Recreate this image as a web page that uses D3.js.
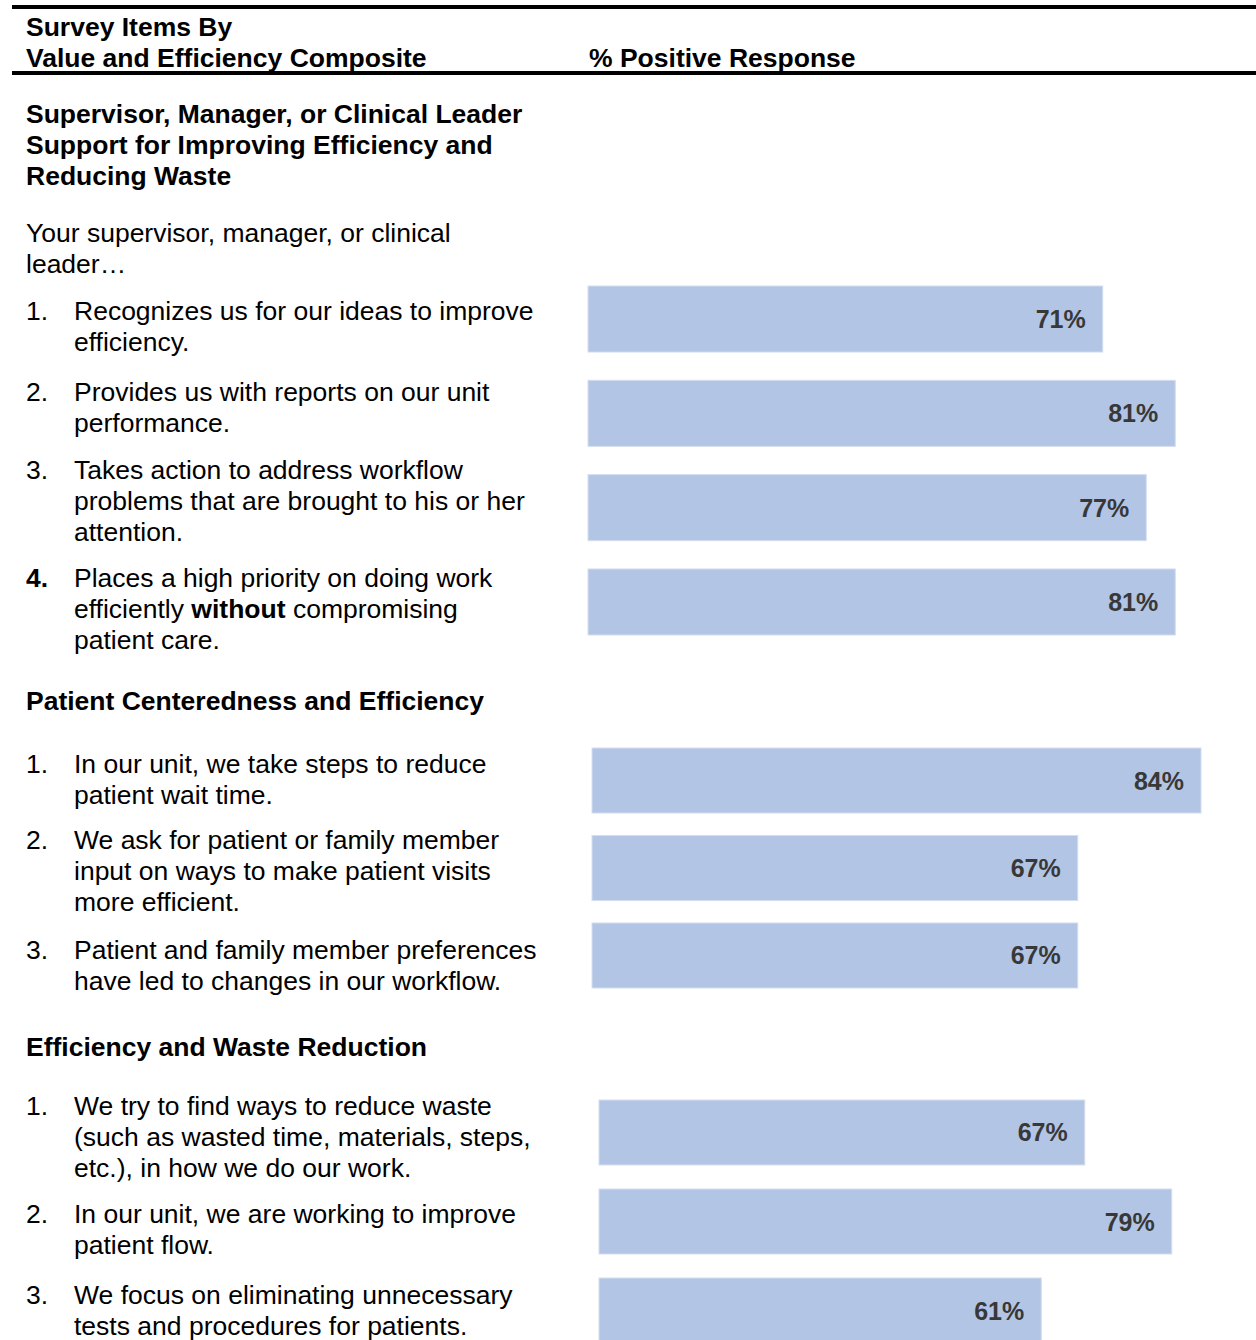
<!DOCTYPE html>
<html><head><meta charset="utf-8">
<script src="https://cdn.jsdelivr.net/npm/d3@7"></script>
<style>
body{margin:0;background:#fff}
svg{display:block}
text{font-family:"Liberation Sans",Arial,Helvetica,sans-serif}
</style>
</head><body>
<svg id="chart" width="1256" height="1340"></svg>
<script>
// ---------- DATA ----------
const headerLeft = ["Survey Items By", "Value and Efficiency Composite"];
const headerRight = "% Positive Response";

const compositeTitles = [
  ["Supervisor, Manager, or Clinical Leader", "Support for Improving Efficiency and", "Reducing Waste"],
  ["Patient Centeredness and Efficiency"],
  ["Efficiency and Waste Reduction"]
];
const introLines = ["Your supervisor, manager, or clinical", "leader…"];

const g1Numbers = ["1.", "2.", "3.", "**4.**"];
const g1Items = [
  ["Recognizes us for our ideas to improve", "efficiency."],
  ["Provides us with reports on our unit", "performance."],
  ["Takes action to address workflow", "problems that are brought to his or her", "attention."],
  ["Places a high priority on doing work", "efficiently **without** compromising", "patient care."]
];
const g1Values = [71, 81, 77, 81];

const g2Numbers = ["1.", "2.", "3."];
const g2Items = [
  ["In our unit, we take steps to reduce", "patient wait time."],
  ["We ask for patient or family member", "input on ways to make patient visits", "more efficient."],
  ["Patient and family member preferences", "have led to changes in our workflow."]
];
const g2Values = [84, 67, 67];

const g3Numbers = ["1.", "2.", "3."];
const g3Items = [
  ["We try to find ways to reduce waste", "(such as wasted time, materials, steps,", "etc.), in how we do our work."],
  ["In our unit, we are working to improve", "patient flow."],
  ["We focus on eliminating unnecessary", "tests and procedures for patients."]
];
const g3Values = [67, 79, 61];

// ---------- LAYOUT ----------
const LH = 30.8;
const FS = 26.5;
const layout = {
  titleY: [123, 710, 1056],
  introY: 242,
  itemY: [[320, 401, 479, 587], [773, 849, 959], [1115, 1223, 1304]],
  barX0: [588, 592, 599],
  barRange: [[286, 635], [748, 988], [1100, 1343]],
  barPad: [0.30, 0.257, 0.27]
};

const svg = d3.select("#chart");

// helper: render a line with **bold** markup
function richText(sel, str) {
  const parts = str.split("**");
  parts.forEach((p, i) => {
    if (!p) return;
    sel.append("tspan").text(p).attr("font-weight", i % 2 === 1 ? "bold" : "normal");
  });
}

// header rules
svg.append("rect").attr("x", 12).attr("y", 5).attr("width", 1244).attr("height", 4).attr("fill", "#000");
svg.append("rect").attr("x", 12).attr("y", 71).attr("width", 1244).attr("height", 4).attr("fill", "#000");

const hdr = svg.append("g").attr("font-weight", "bold").attr("font-size", FS).attr("fill", "#000");
hdr.selectAll("text.hl").data(headerLeft).join("text")
  .attr("x", 26).attr("y", (d, i) => 36 + i * LH).text(d => d);
hdr.append("text").attr("x", 589).attr("y", 36 + LH).text(headerRight);

// section titles
compositeTitles.forEach((lines, gi) => {
  svg.append("g").attr("font-weight", "bold").attr("font-size", FS).attr("fill", "#000")
    .selectAll("text").data(lines).join("text")
    .attr("x", 26).attr("y", (d, i) => layout.titleY[gi] + i * LH).text(d => d);
});

// intro
svg.append("g").attr("font-size", FS).attr("fill", "#000")
  .selectAll("text").data(introLines).join("text")
  .attr("x", 26).attr("y", (d, i) => layout.introY + i * LH).text(d => d);

// items + bars
const groups = [
  { nums: g1Numbers, items: g1Items, vals: g1Values },
  { nums: g2Numbers, items: g2Items, vals: g2Values },
  { nums: g3Numbers, items: g3Items, vals: g3Values }
];

const x = d3.scaleLinear().domain([0, 100]).range([0, 725]);

groups.forEach((g, gi) => {
  const gItems = svg.append("g").attr("font-size", FS).attr("fill", "#000");
  g.items.forEach((lines, ii) => {
    const y0 = layout.itemY[gi][ii];
    richText(gItems.append("text").attr("x", 26).attr("y", y0), g.nums[ii]);
    lines.forEach((ln, li) => {
      richText(gItems.append("text").attr("x", 74).attr("y", y0 + li * LH), ln);
    });
  });

  const y = d3.scaleBand()
    .domain(d3.range(g.vals.length))
    .range(layout.barRange[gi])
    .paddingInner(layout.barPad[gi])
    .paddingOuter(0);

  const x0 = layout.barX0[gi];
  const bars = svg.append("g").attr("transform", `translate(${x0},0)`);
  bars.selectAll("rect").data(g.vals).join("rect")
    .attr("x", x(0))
    .attr("y", (d, i) => y(i))
    .attr("width", d => x(d) - x(0))
    .attr("height", y.bandwidth())
    .attr("fill", "#b2c5e4")
    .attr("stroke", "#d3ddef")
    .attr("stroke-width", 1);
  bars.selectAll("text").data(g.vals).join("text")
    .attr("x", d => x(d) - 17)
    .attr("y", (d, i) => y(i) + y.bandwidth() / 2 + 9)
    .attr("text-anchor", "end")
    .attr("font-weight", "bold")
    .attr("font-size", 25)
    .attr("fill", "#383838")
    .text(d => d + "%");
});
</script>
</body></html>
